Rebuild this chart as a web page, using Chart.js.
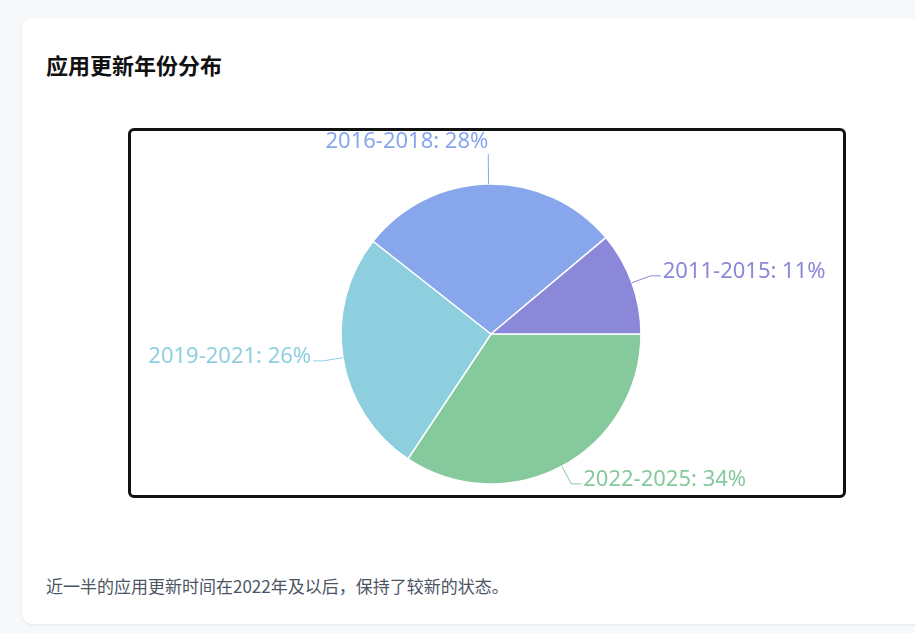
<!DOCTYPE html>
<html><head><meta charset="utf-8">
<script src="https://cdn.jsdelivr.net/npm/chart.js@4"></script>
<style>
html,body{margin:0;padding:0;background:#f7f8fa;width:915px;height:633px;overflow:hidden;font-family:"Noto Sans CJK SC","Noto Sans",sans-serif;}
.card{position:absolute;left:22px;top:18px;width:920px;height:606px;background:#fff;border-radius:10px;box-shadow:0 1px 3px rgba(0,0,0,0.08);}
h2{position:absolute;left:24px;top:30px;margin:0;font-size:22px;font-weight:700;color:#111;}
.box{position:absolute;left:106px;top:110px;width:712px;height:364px;border:3px solid #111;border-radius:6px;overflow:hidden;}
.note{position:absolute;left:24px;top:555px;font-size:17px;color:#4b5563;}
</style></head><body>
<div class="card">
<h2>应用更新年份分布</h2>
<div class="box"><canvas id="c" width="712" height="364"></canvas></div>
<div class="note">近一半的应用更新时间在2022年及以后，保持了较新的状态。</div>
</div>
<script>
const categories = ["2022-2025","2019-2021","2016-2018","2011-2015"];
const values = [34,26,28,11];
const colors = ["#85c99c","#8ecfdf","#87a6ec","#8b87d9"];

const labelPlugin = {
  id:'lbl',
  afterDatasetsDraw(chart){
    const ctx = chart.ctx;
    const meta = chart.getDatasetMeta(0);
    ctx.save();
    ctx.font = '22px "Noto Sans","Noto Sans CJK SC",sans-serif';
    meta.data.forEach((arc,i)=>{
      const a = (arc.startAngle+arc.endAngle)/2;
      const r = arc.outerRadius;
      const c = Math.cos(a), s = Math.sin(a);
      const x1 = arc.x + c*r, y1 = arc.y + s*r;
      const x2 = arc.x + c*(r+20), y2 = arc.y + s*(r+20);
      ctx.strokeStyle = colors[i]; ctx.fillStyle = colors[i]; ctx.lineWidth = 1;
      ctx.beginPath(); ctx.moveTo(x1,y1); ctx.lineTo(x2,y2);
      const txt = categories[i]+': '+values[i]+'%';
      if (Math.abs(c) < 0.15) {
        ctx.lineTo(x2, y2-10); ctx.stroke();
        ctx.textAlign='right'; ctx.textBaseline='middle';
        ctx.fillText(txt, x2, y2-22);
      } else {
        const dir = c>0?1:-1;
        const x3 = x2 + dir*10;
        ctx.lineTo(x3,y2); ctx.stroke();
        ctx.textAlign = dir>0?'left':'right'; ctx.textBaseline='middle';
        ctx.fillText(txt, x3+dir*2, y2-4);
      }
    });
    ctx.restore();
  }
};

new Chart(document.getElementById('c'),{
  type:'pie',
  data:{labels:categories,datasets:[{data:values,backgroundColor:colors,borderColor:'#fff',borderWidth:1.5}]},
  options:{responsive:false,animation:false,rotation:90,radius:150,
    layout:{padding:{top:42,bottom:0,left:8,right:0}},
    plugins:{legend:{display:false},tooltip:{enabled:false}}},
  plugins:[labelPlugin]
});
</script>
</body></html>
